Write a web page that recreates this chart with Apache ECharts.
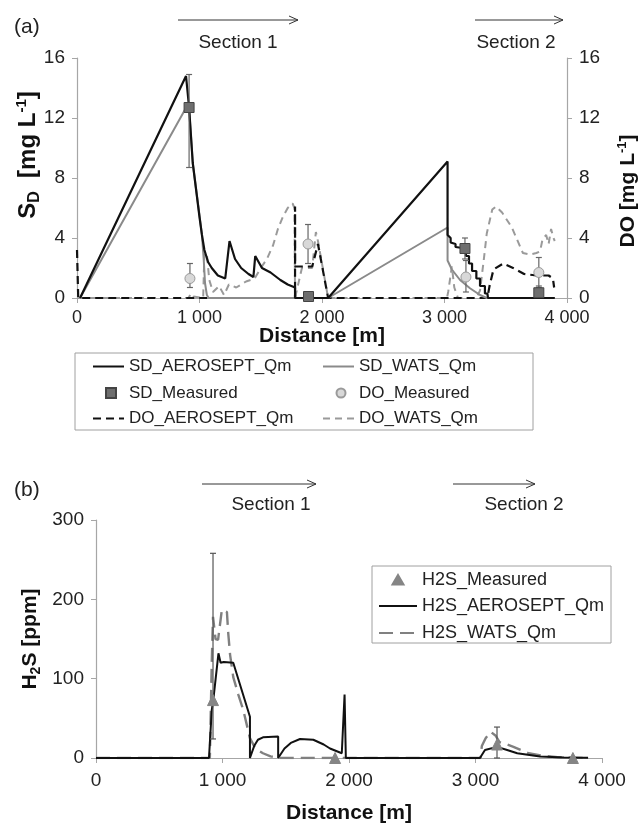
<!DOCTYPE html>
<html>
<head>
<meta charset="utf-8">
<script src="https://cdn.jsdelivr.net/npm/echarts@6/dist/echarts.min.js"></script>
<style>
html, body { margin: 0; padding: 0; background: #fff; }
#chart { width: 639px; height: 826px; }
</style>
</head>
<body>
<div id="chart"></div>
<script>
// (a) dissolved sulphide / oxygen along the sewer, [distance m, mg/L]
const sdAerosept = [[25,0],[890,14.8],[915,12.7],[945,9.0],[1000,5.4],[1020,4.2],[1040,3.2],[1070,2.4],[1100,2.0],[1150,1.5],[1210,1.3],[1245,3.8],[1290,2.6],[1340,2.0],[1400,1.6],[1440,1.4],[1455,2.8],[1510,2.0],[1580,1.7],[1660,1.2],[1720,0.9],[1780,0.7],[1780,0],[2050,0],[3025,9.1],[3025,4.2],[3050,4.0],[3050,3.7],[3090,3.6],[3090,3.4],[3175,3.3],[3175,2.8],[3200,2.8],[3200,2.3],[3225,2.3],[3225,1.8],[3260,1.8],[3260,1.3],[3290,1.3],[3290,0.8],[3330,0.8],[3330,0.3],[3350,0.3],[3355,0],[3900,0]];
const sdWats = [[25,0],[905,12.9],[915,12.7],[945,9.0],[1000,5.5],[1020,4.2],[1035,2.5],[1045,1.0],[1060,0.2],[1075,0],[2050,0],[3025,4.7],[3025,2.5],[3060,1.9],[3127,1.2],[3208,0.65],[3290,0.2],[3345,0],[3900,0]];
const doAerosept = [[0,3.2],[10,0],[1780,0],[1780,6.1],[1781,2.1],[1920,2.1],[1967,3.6],[2050,0],[3350,0],[3370,0.9],[3400,1.9],[3480,2.3],[3560,2.0],[3650,1.6],[3750,1.5],[3850,1.5],[3885,1.3],[3895,0.7]];
const doWats = [[0,0],[910,0],[930,0.3],[950,0.1],[1030,0],[1040,3.0],[1060,2.9],[1080,1.2],[1110,0.4],[1160,0.8],[1200,0.2],[1240,0.9],[1300,0.7],[1380,1.1],[1450,1.3],[1500,2.0],[1550,2.6],[1600,3.5],[1640,4.6],[1680,5.4],[1720,6.0],[1760,6.3],[1775,6.0],[1780,0],[1790,0],[1836,2.0],[1920,2.0],[1950,4.4],[1967,3.8],[2050,0],[3020,0],[3030,0.4],[3060,2.1],[3080,0.7],[3110,0],[3260,0],[3290,0.5],[3320,2.5],[3345,4.3],[3390,5.9],[3420,6.1],[3470,5.7],[3550,4.7],[3640,3.0],[3700,2.9],[3750,3.0],[3780,3.1],[3800,3.9],[3830,4.2],[3850,3.6],[3870,4.6],[3890,4.0],[3900,3.8]];
const sdMeasured = [[915,12.7],[1890,0.1],[3167,3.3],[3770,0.35]];
const sdErrors = [[915,8.7,14.9],[3167,2.6,4.0],[3770,0.1,0.8]];      // [x, low, high]
const doMeasured = [[922,1.3],[1886,3.6],[3175,1.4],[3770,1.7]];
const doErrors = [[922,0.7,2.3],[1886,2.3,4.9],[3175,0.4,2.5],[3770,0.7,2.7]];

// (b) H2S in the gas phase, [distance m, ppm]
const h2sAerosept = [[0,0],[893,0],[915,60],[930,77],[968,132],[985,120],[1010,121],[1085,120],[1217,52],[1217,0],[1225,0],[1250,15],[1280,23],[1320,26],[1440,27],[1440,0],[1455,0],[1490,12],[1540,19],[1613,24],[1718,23],[1800,17],[1850,12],[1943,6],[1965,80],[1975,0],[3035,0],[3075,10],[3170,14],[3250,10],[3330,6],[3510,2],[3700,0.7],[3890,0.3]];
const h2sWats = [[0,0],[900,0],[915,120],[925,178],[945,150],[965,149],[995,187],[1035,184],[1045,158],[1060,130],[1085,102],[1125,80],[1165,60],[1217,25],[1260,12],[1320,6],[1380,2],[1455,0],[3040,0],[3050,15],[3080,25],[3120,33],[3160,28],[3190,20],[3250,17],[3300,14],[3360,10],[3420,6],[3520,3],[3650,1],[3890,0]];
const h2sMeasured = [[925,73],[1890,0],[3170,17],[3770,0]];
const h2sErrors = [[925,24,258],[3170,0,39]];

const FONT = "'Liberation Sans', Arial, sans-serif";
const AXIS = '#a6a6a6';
const fmtK = v => v === 0 ? '0' : (v / 1000) + ' 000';

function errorBars(name, data, xi, yi, color, cap) {
    return {
        name: name, type: 'custom', xAxisIndex: xi, yAxisIndex: yi, z: 4, silent: true,
        data: data,
        encode: { x: 0, y: [1, 2] },
        renderItem: function (params, api) {
            const lo = api.coord([api.value(0), api.value(1)]);
            const hi = api.coord([api.value(0), api.value(2)]);
            const st = { stroke: color, lineWidth: 1.2 };
            return {
                type: 'group', children: [
                    { type: 'line', shape: { x1: lo[0], y1: lo[1], x2: hi[0], y2: hi[1] }, style: st },
                    { type: 'line', shape: { x1: lo[0] - cap, y1: lo[1], x2: lo[0] + cap, y2: lo[1] }, style: st },
                    { type: 'line', shape: { x1: hi[0] - cap, y1: hi[1], x2: hi[0] + cap, y2: hi[1] }, style: st }
                ]
            };
        }
    };
}

function line(name, data, xi, yi, color, width, dash, z) {
    return {
        name: name, type: 'line', xAxisIndex: xi, yAxisIndex: yi, data: data,
        symbol: 'none', z: z, silent: true, animation: false,
        lineStyle: { color: color, width: width, type: dash || 'solid' },
        itemStyle: { color: color }
    };
}

function marks(name, data, xi, yi, symbol, size, fill, border) {
    return {
        name: name, type: 'scatter', xAxisIndex: xi, yAxisIndex: yi, data: data,
        symbol: symbol, symbolSize: size, z: 5, silent: true,
        itemStyle: { color: fill, borderColor: border, borderWidth: 1, opacity: 1 }
    };
}

// one legend per entry so every entry sits where it does in the figure
function leg(name, left, top, w, fs, icon) {
    const l = {
        data: [icon ? { name: name, icon: icon } : name],
        left: left, top: top, itemWidth: w, itemHeight: 16, itemGap: 0, padding: 0,
        selectedMode: false,
        textStyle: { fontSize: fs, fontFamily: FONT, color: '#222', lineHeight: 16 }
    };
    if (!icon) l.itemStyle = { opacity: 0 };   // line entries: hide the dot, keep the line
    return l;
}

const SQUARE = 'path://M0,0M28,16M10,3h10v10h-10z';
const CIRCLE = 'path://M0,0M28,16M15,3.5a4.5,4.5,0,1,1,0,9a4.5,4.5,0,1,1,0,-9z';
const TRIANGLE = 'path://M0,0M38,16M19,3L24.5,12.5L13.5,12.5z';

const labelStyle = { color: '#222', fontFamily: FONT };
const nameBold = { fontSize: 21, fontWeight: 'bold', fontFamily: FONT, color: '#111' };
function richName(fs) {
    return {
        b: { fontSize: fs, fontWeight: 'bold', fontFamily: FONT, color: '#111' },
        s: { fontSize: Math.round(fs * 0.67), fontWeight: 'bold', fontFamily: FONT, color: '#111', padding: [Math.round(fs * 0.52), 0, 0, 0] },
        p: { fontSize: Math.round(fs * 0.62), fontWeight: 'bold', fontFamily: FONT, color: '#111', padding: [0, 0, Math.round(fs * 0.57), 0] }
    };
}

function xAxisCfg(gi, fs, margin, gap) {
    return {
        gridIndex: gi, type: 'value', min: 0, max: 4000, interval: 1000,
        axisLine: { onZero: false, lineStyle: { color: AXIS, width: 1.2 } },
        axisTick: { show: true, length: 5, lineStyle: { color: AXIS } },
        splitLine: { show: false },
        axisLabel: Object.assign({ formatter: fmtK, fontSize: fs, margin: margin }, labelStyle),
        name: 'Distance [m]', nameLocation: 'middle', nameGap: gap, nameTextStyle: nameBold,
        nameMoveOverlap: false
    };
}

function yAxisCfg(gi, pos, max, interval, name, nameSize, gap, pad) {
    return {
        gridIndex: gi, type: 'value', position: pos, min: 0, max: max, interval: interval,
        axisLine: { show: true, lineStyle: { color: AXIS, width: 1.2 } },
        axisTick: { show: true, length: 5, lineStyle: { color: AXIS } },
        splitLine: { show: false },
        axisLabel: Object.assign({ fontSize: 19, margin: 12 }, labelStyle),
        name: name, nameLocation: 'middle', nameRotate: 90, nameGap: gap,
        nameMoveOverlap: false,
        nameTextStyle: { rich: richName(nameSize), padding: pad }
    };
}

function arrow(x1, x2, y) {
    return [
        { type: 'line', shape: { x1: x1, y1: y, x2: x2, y2: y }, style: { stroke: '#333', lineWidth: 1 } },
        { type: 'polyline', shape: { points: [[x2 - 9, y - 4], [x2, y], [x2 - 9, y + 4]] }, style: { stroke: '#333', lineWidth: 1, fill: null } }
    ];
}

function label(text, x, y, fs) {
    return { type: 'text', x: x, y: y, style: { text: text, align: 'center', verticalAlign: 'middle', fontSize: fs, fontFamily: FONT, fill: '#222' } };
}

const chart = echarts.init(document.getElementById('chart'), null, { renderer: 'canvas' });

chart.setOption({
    animation: false,
    backgroundColor: '#fff',
    grid: [
        { left: 77, top: 58, width: 490, height: 240, outerBoundsMode: 'none', containLabel: false },
        { left: 96, top: 520, width: 506, height: 238, outerBoundsMode: 'none', containLabel: false }
    ],
    xAxis: [xAxisCfg(0, 18, 11, 28), xAxisCfg(1, 19, 13, 45)],
    yAxis: [
        yAxisCfg(0, 'left', 16, 4, '{b|S}{s|D}{b|  [mg L}{p|-1}{b|]}', 24, 34, [0, 0, 0, 46]),
        yAxisCfg(0, 'right', 16, 4, '{b|DO [mg L}{p|-1}{b|]}', 21, 49, [0, 26, 0, 0]),
        yAxisCfg(1, 'left', 300, 100, '{b|H}{s|2}{b|S [ppm]}', 21, 53, [0, 0, 0, 0])
    ],
    legend: [
        leg('SD_AEROSEPT_Qm', 92, 358, 31, 17),
        leg('SD_WATS_Qm', 322, 358, 31, 17),
        leg('SD_Measured', 95, 384, 28, 17, SQUARE),
        leg('DO_Measured', 325, 384, 28, 17, CIRCLE),
        leg('DO_AEROSEPT_Qm', 92, 410, 31, 17),
        leg('DO_WATS_Qm', 322, 410, 31, 17),
        leg('H2S_Measured', 378, 571, 38, 18, TRIANGLE),
        leg('H2S_AEROSEPT_Qm', 378, 597, 38, 18),
        leg('H2S_WATS_Qm', 378, 624, 38, 18)
    ],
    graphic: [
        { type: 'rect', shape: { x: 75, y: 353, width: 458, height: 77 }, style: { fill: null, stroke: '#a0a0a0', lineWidth: 1 } },
        { type: 'rect', shape: { x: 372, y: 566, width: 239, height: 77 }, style: { fill: null, stroke: '#a0a0a0', lineWidth: 1 } },
        { type: 'text', x: 14, y: 27, style: { text: '(a)', verticalAlign: 'middle', fontSize: 21, fontFamily: FONT, fill: '#222' } },
        { type: 'text', x: 14, y: 490, style: { text: '(b)', verticalAlign: 'middle', fontSize: 21, fontFamily: FONT, fill: '#222' } },
        label('Section 1', 238, 43, 19),
        label('Section 2', 516, 43, 19),
        label('Section 1', 271, 505, 19),
        label('Section 2', 524, 505, 19)
    ].concat(arrow(178, 298, 20), arrow(475, 563, 20), arrow(202, 316, 484), arrow(453, 535, 484)),
    series: [
        line('DO_WATS_Qm', doWats, 0, 1, '#9a9a9a', 2, [7, 5], 1),
        line('DO_AEROSEPT_Qm', doAerosept, 0, 1, '#111', 2.2, [8, 5], 2),
        line('SD_WATS_Qm', sdWats, 0, 0, '#8a8a8a', 2, null, 2),
        line('SD_AEROSEPT_Qm', sdAerosept, 0, 0, '#111', 2.2, null, 3),
        errorBars('sdErr', sdErrors, 0, 0, '#666', 3),
        errorBars('doErr', doErrors, 0, 1, '#666', 3),
        marks('SD_Measured', sdMeasured, 0, 0, 'rect', 10, '#6e6e6e', '#444'),
        marks('DO_Measured', doMeasured, 0, 1, 'circle', 10, '#d8d8d8', '#9a9a9a'),
        line('H2S_WATS_Qm', h2sWats, 1, 2, '#808080', 2.4, [14, 7], 2),
        line('H2S_AEROSEPT_Qm', h2sAerosept, 1, 2, '#111', 2, null, 3),
        errorBars('h2sErr', h2sErrors, 1, 2, '#555', 3),
        marks('H2S_Measured', h2sMeasured, 1, 2, 'triangle', 11, '#858585', '#858585')
    ]
});
</script>
</body>
</html>
